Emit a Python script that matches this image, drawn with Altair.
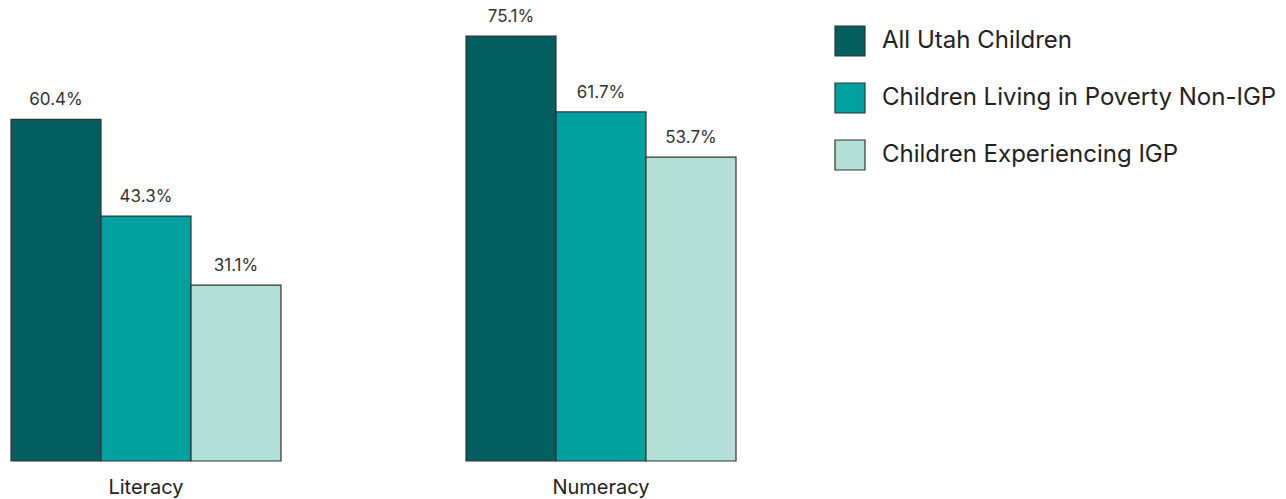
import altair as alt
import pandas as pd

skills = ["Literacy", "Numeracy"]
groups = ["All Utah Children", "Children Living in Poverty Non-IGP", "Children Experiencing IGP"]
literacy = [60.4, 43.3, 31.1]
numeracy = [75.1, 61.7, 53.7]
colors = ["#035e5f", "#00a19e", "#b3e0d6"]

rows = []
for g, v in zip(groups, literacy):
    rows.append({"skill": "Literacy", "group": g, "value": v})
for g, v in zip(groups, numeracy):
    rows.append({"skill": "Numeracy", "group": g, "value": v})
df = pd.DataFrame(rows)
df["label"] = df["value"].map(lambda v: f"{v:.1f}%")

FONT = "Inter"

x = alt.X("skill:N", sort=skills, title=None,
          scale=alt.Scale(paddingInner=0.4066, paddingOuter=0),
          axis=alt.Axis(labelAngle=0, domain=False, ticks=False, labelFontSize=20,
                        labelPadding=16, labelColor="#222", labelFont=FONT))
xo = alt.XOffset("group:N", sort=groups, scale=alt.Scale(paddingInner=0, paddingOuter=0))
y = alt.Y("value:Q", scale=alt.Scale(domain=[0, 80.6], nice=False), axis=None)

bars = alt.Chart(df).mark_bar(stroke="#333333", strokeWidth=1.2).encode(
    x=x, xOffset=xo, y=y,
    color=alt.Color("group:N", sort=groups,
                    scale=alt.Scale(domain=groups, range=colors),
                    legend=alt.Legend(title=None, orient="none", legendX=823, legendY=20,
                                      symbolType="square", symbolSize=900,
                                      symbolStrokeColor="#333333", symbolStrokeWidth=1.2,
                                      labelFontSize=24, labelFont=FONT, labelColor="#222",
                                      labelLimit=0, rowPadding=21, labelOffset=16)),
)

text = alt.Chart(df).mark_text(dy=-14, baseline="alphabetic", fontSize=17, font=FONT,
                               color="#333333").encode(
    x=x, xOffset=xo, y=y, text="label:N"
)

chart = (bars + text).properties(
    width=725, height=456, padding={"left": 10, "top": 5, "right": 5, "bottom": 5}
).configure(background="white").configure_view(strokeWidth=0, stroke=None)

chart.save("out.html", embed_options={"renderer": "svg", "actions": False})
